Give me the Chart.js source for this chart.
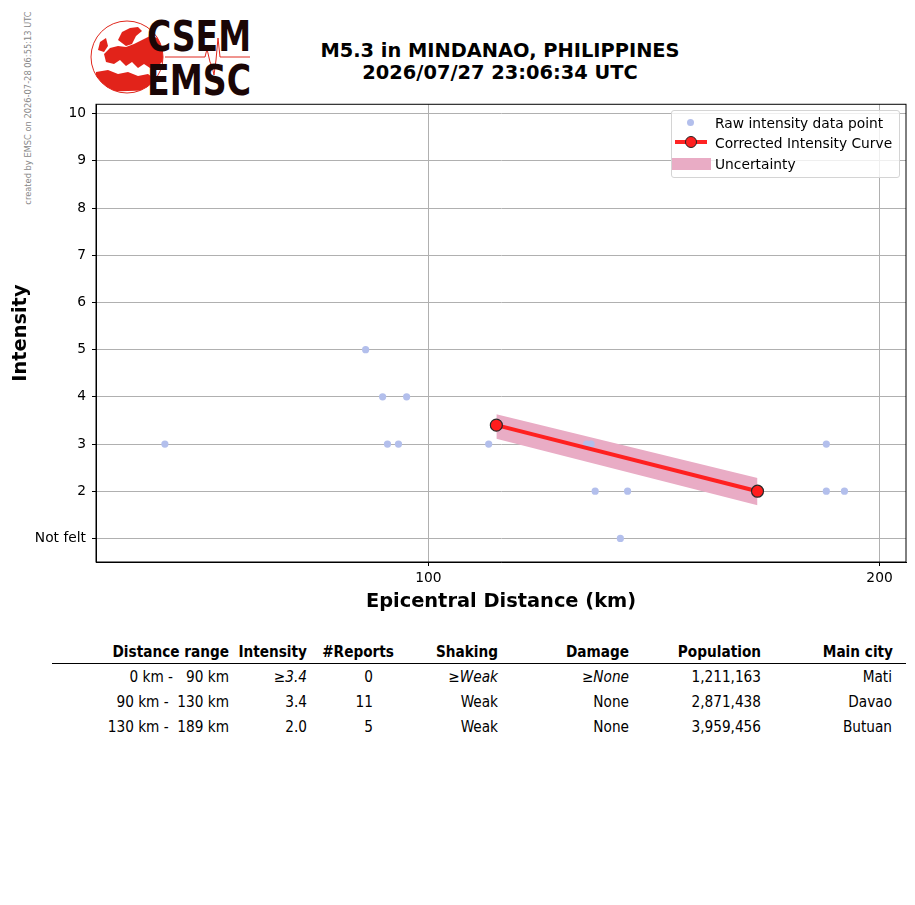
<!DOCTYPE html>
<html>
<head>
<meta charset="utf-8">
<script src="https://cdn.jsdelivr.net/npm/chart.js@4.4.0/dist/chart.umd.min.js"></script>
<style>
body{margin:0;background:#fff;font-family:"DejaVu Sans",sans-serif;color:#000;}
#page{position:relative;width:915px;height:905px;overflow:hidden;background:#fff;}
#stamp{position:absolute;left:28px;top:108px;transform:translate(-50%,-50%) rotate(-90deg);font-size:8.3px;color:#888;white-space:nowrap;}
#title{position:absolute;left:250px;width:500px;top:40px;text-align:center;font-weight:bold;font-size:19.4px;line-height:22px;}
#logo{position:absolute;left:0;top:0;}
#chartBox{position:absolute;left:0;top:90px;width:915px;height:526px;}
#legend{position:absolute;left:671px;top:110px;width:227px;height:66px;border:1px solid #d4d4d4;border-radius:3px;background:rgba(255,255,255,0.8);font-size:13.8px;}
#legend .row{position:absolute;left:43px;height:16px;line-height:16px;white-space:nowrap;}
#legend .sym{position:absolute;}
#table{position:absolute;left:0;top:0;font-family:"DejaVu Sans Condensed","DejaVu Sans",sans-serif;font-size:15.2px;}
#table .cell{position:absolute;white-space:nowrap;transform:translate(-100%,-50%);}
#table .head{font-weight:bold;}
#table i{font-style:italic;}
#rule{position:absolute;left:52px;top:663px;width:854px;height:0;border-top:1.6px solid #000;}
</style>
</head>
<body>
<div id="page">
  <div id="stamp">created by EMSC on 2026-07-28 06:55:13 UTC</div>
  <svg id="logo" width="260" height="105">
    <defs><clipPath id="globe"><circle cx="127" cy="57" r="36"/></clipPath></defs>
    <circle cx="127" cy="57" r="36" fill="none" stroke="#e0281e" stroke-width="1"/>
    <g clip-path="url(#globe)" fill="#e2231a">
      <path d="M118,40 L122,32 L130,28 L138,27 L142,31 L136,36 L132,44 L126,46 Z"/>
      <path d="M104,54 L110,48 L118,46 L126,47 L134,44 L142,40 L150,36 L158,38 L164,46 L164,60 L158,66 L150,68 L144,64 L138,68 L132,62 L126,66 L120,60 L114,64 L106,62 Z"/>
      <path d="M100,42 L106,38 L108,46 L104,52 L98,50 Z"/>
      <path d="M96,72 L108,70 L118,74 L128,72 L138,76 L148,74 L156,80 L160,90 L96,92 Z"/>
    </g>
    <path d="M165,57 L205,57 L207,49 L210,62 L212,66 L214,75 L216,60 L218,38 L220,57 L250,57" fill="none" stroke="#e0281e" stroke-width="1"/>
    <text x="147" y="51" font-family="DejaVu Sans" font-weight="bold" font-size="42" fill="#1a0606" textLength="104" lengthAdjust="spacingAndGlyphs">CSEM</text>
    <text x="147" y="95" font-family="DejaVu Sans" font-weight="bold" font-size="42" fill="#1a0606" textLength="104" lengthAdjust="spacingAndGlyphs">EMSC</text>
  </svg>
  <div id="title">M5.3 in MINDANAO, PHILIPPINES<br>2026/07/27 23:06:34 UTC</div>
  <div id="chartBox"><canvas id="chart"></canvas></div>
  <div id="legend">
    <span class="sym" style="left:15px;top:8px;width:7px;height:7px;border-radius:50%;background:#b3bfec;"></span>
    <div class="row" style="top:4px;">Raw intensity data point</div>
    <span class="sym" style="left:3px;top:29px;width:32px;height:4px;background:#ff2424;"></span>
    <span class="sym" style="left:13px;top:25px;width:10px;height:10px;border-radius:50%;background:#ff2020;border:1px solid #222;"></span>
    <div class="row" style="top:24px;">Corrected Intensity Curve</div>
    <span class="sym" style="left:0px;top:47px;width:39px;height:12px;background:#e9acc5;"></span>
    <div class="row" style="top:45px;">Uncertainty</div>
  </div>
  <div id="rule"></div>
  <div id="table"></div>
</div>
<script>
// raw reports
const rawDistance = [66.7, 90.8, 93.2, 96.7, 93.9, 95.5, 109.7, 127.5, 128.4, 129.2, 135.8, 134.3, 184.3, 184.3, 189.5];
const rawIntensity = [3, 5, 4, 4, 3, 3, 3, 3, 3, 2, 2, 1, 3, 2, 2];

// corrected curve and uncertainty band
const curveDistance = [111.0, 165.8];
const curveIntensity = [3.4, 2.0];
const bandUpper = [3.63, 2.28];
const bandLower = [3.11, 1.70];

const xTicks = [100, 200];
const yTicks = [1, 2, 3, 4, 5, 6, 7, 8, 9, 10];
const yTickLabels = ['Not felt', '2', '3', '4', '5', '6', '7', '8', '9', '10'];

// summary table
const tableHeader = ['Distance range', 'Intensity', '#Reports', 'Shaking', 'Damage', 'Population', 'Main city'];
const distanceRange = ['0 km -   90 km', '90 km -  130 km', '130 km -  189 km'];
const rangeIntensity = ['≥3.4', '3.4', '2.0'];
const rangeReports = ['0', '11', '5'];
const rangeShaking = ['≥Weak', 'Weak', 'Weak'];
const rangeDamage = ['≥None', 'None', 'None'];
const rangePopulation = ['1,211,163', '2,871,438', '3,959,456'];
const rangeCity = ['Mati', 'Davao', 'Butuan'];

const headRight = [229, 307, 394, 498, 629, 761, 893];
const cellRight = [229, 307, 373, 498, 629, 761, 892];

function pts(xs, ys) {
    let out = new Array();
    for (let i = 0; i < xs.length; i++) out.push({x: xs[i], y: ys[i]});
    return out;
}

function fmtCell(t) {
    t = t.replace(/ /g, '&nbsp;');
    if (t.charAt(0) == '≥') return '≥<i>' + t.substring(1) + '</i>';
    return t;
}

let html = '';
for (let c = 0; c < tableHeader.length; c++) {
    html += '<div class="cell head" style="left:' + headRight[c] + 'px;top:652px;">' + tableHeader[c] + '</div>';
}
let cols = [distanceRange, rangeIntensity, rangeReports, rangeShaking, rangeDamage, rangePopulation, rangeCity];
for (let r = 0; r < distanceRange.length; r++) {
    for (let c = 0; c < cols.length; c++) {
        html += '<div class="cell" style="left:' + cellRight[c] + 'px;top:' + (677 + r * 25) + 'px;">' + fmtCell(cols[c][r]) + '</div>';
    }
}
document.getElementById('table').innerHTML = html;

const framePlugin = {
    id: 'frame',
    afterDraw(chart) {
        const a = chart.chartArea;
        const ctx = chart.ctx;
        ctx.save();
        ctx.strokeStyle = '#000';
        ctx.lineWidth = 1;
        ctx.strokeRect(a.left, a.top, a.right - a.left, a.bottom - a.top);
        ctx.restore();
    }
};

const tickFont = {family: 'DejaVu Sans', size: 13.8};

new Chart(document.getElementById('chart'), {
    type: 'scatter',
    plugins: [framePlugin],
    data: {
        datasets: [
            {
                label: 'Corrected Intensity Curve',
                type: 'line',
                data: pts(curveDistance, curveIntensity),
                borderColor: '#ff2020',
                borderWidth: 4,
                pointRadius: 6,
                pointBackgroundColor: '#ff1c1c',
                pointBorderColor: '#2a2a2a',
                pointBorderWidth: 1.2,
                fill: false,
                order: 0
            },
            {
                label: 'Raw intensity data point',
                data: pts(rawDistance, rawIntensity),
                backgroundColor: '#b3bfec',
                borderWidth: 0,
                pointRadius: 3.6,
                order: 1
            },
            {
                label: 'Uncertainty',
                type: 'line',
                data: pts(curveDistance, bandUpper),
                borderWidth: 0,
                pointRadius: 0,
                backgroundColor: '#e9acc5',
                fill: '+1',
                order: 2
            },
            {
                label: 'lower',
                type: 'line',
                data: pts(curveDistance, bandLower),
                borderWidth: 0,
                pointRadius: 0,
                fill: false,
                order: 3
            }
        ]
    },
    options: {
        responsive: true,
        maintainAspectRatio: false,
        animation: false,
        layout: {padding: {top: 13, right: 9, left: 0, bottom: 2}},
        plugins: {
            legend: {display: false},
            tooltip: {enabled: false}
        },
        scales: {
            x: {
                type: 'logarithmic',
                min: 60,
                max: 208.3,
                afterBuildTicks: function(scale) {
                    scale.ticks = xTicks.map(v => ({value: v}));
                },
                afterFit: function(scale) { scale.height = 52; },
                ticks: {
                    color: '#000',
                    font: tickFont,
                    padding: 4,
                    maxRotation: 0,
                    callback: v => String(v)
                },
                grid: {color: '#b0b0b0', tickColor: '#000', tickLength: 4, lineWidth: 1},
                border: {color: '#000', width: 1},
                title: {
                    display: true,
                    text: 'Epicentral Distance (km)',
                    color: '#000',
                    font: {family: 'DejaVu Sans', size: 19.4, weight: 'bold'},
                    padding: 0
                }
            },
            y: {
                type: 'linear',
                min: 0.5,
                max: 10.2,
                afterBuildTicks: function(scale) {
                    scale.ticks = yTicks.map(v => ({value: v}));
                },
                afterFit: function(scale) { scale.width = 96; },
                ticks: {
                    color: '#000',
                    font: tickFont,
                    padding: 6,
                    callback: v => yTickLabels[yTicks.indexOf(v)]
                },
                grid: {color: '#b0b0b0', tickColor: '#000', tickLength: 4, lineWidth: 1},
                border: {color: '#000', width: 1},
                title: {
                    display: true,
                    text: 'Intensity',
                    color: '#000',
                    font: {family: 'DejaVu Sans', size: 19.4, weight: 'bold'},
                    padding: {top: 9, bottom: 0}
                }
            }
        }
    }
});
</script>
</body>
</html>
